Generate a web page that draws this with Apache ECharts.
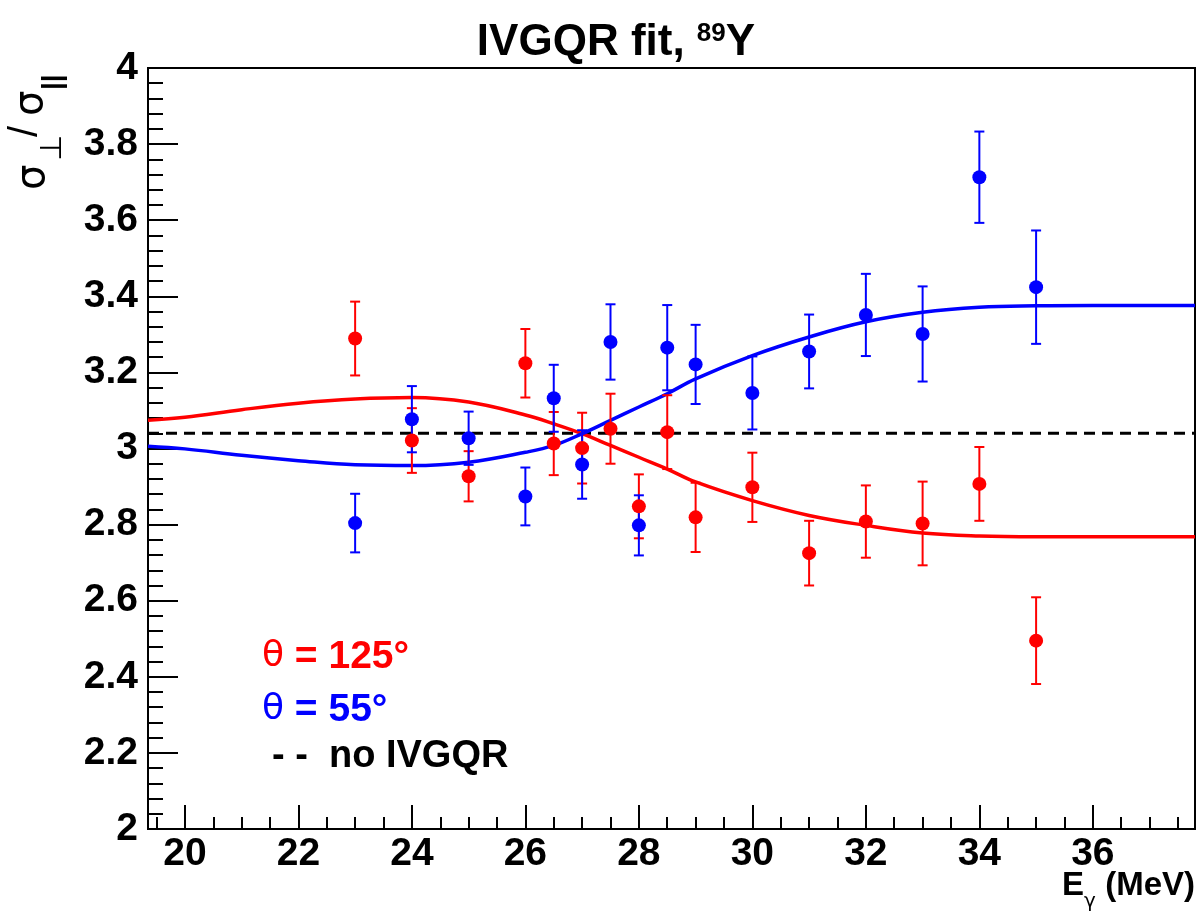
<!DOCTYPE html>
<html>
<head>
<meta charset="utf-8">
<script src="https://cdn.jsdelivr.net/npm/echarts@6/dist/echarts.min.js"></script>
<style>html,body{margin:0;padding:0;background:#fff;}#c{width:1198px;height:920px;}</style>
</head>
<body>
<div id="c"></div>
<script>
// ---- data ----
const energies = [23, 24, 25, 26, 26.5, 27, 27.5, 28, 28.5, 29, 30, 31, 32, 33, 34, 35];
const red125 = [3.289, 3.021, 2.927, 3.224, 3.013, 3.001, 3.052, 2.848, 3.043, 2.819, 2.898, 2.725, 2.808, 2.803, 2.907, 2.495];
const red125Err = [0.097, 0.085, 0.066, 0.090, 0.083, 0.093, 0.092, 0.084, 0.097, 0.091, 0.091, 0.085, 0.095, 0.110, 0.097, 0.114];
const blue55 = [2.804, 3.077, 3.027, 2.874, 3.132, 2.958, 3.280, 2.798, 3.265, 3.221, 3.146, 3.255, 3.351, 3.301, 3.713, 3.424];
const blue55Err = [0.077, 0.087, 0.070, 0.076, 0.088, 0.090, 0.099, 0.079, 0.112, 0.104, 0.096, 0.097, 0.108, 0.125, 0.120, 0.149];

const fitE = [19.35, 20, 21, 22, 23, 24, 25, 26, 26.5, 27, 27.5, 28, 28.5, 29, 30, 31, 32, 33, 34, 35, 36, 37, 37.8];
const fitRed = [3.074, 3.082, 3.102, 3.119, 3.130, 3.134, 3.122, 3.088, 3.065, 3.039, 3.008, 2.977, 2.946, 2.912, 2.863, 2.824, 2.798, 2.778, 2.770, 2.768, 2.768, 2.768, 2.768];
const fitBlue = [3.006, 2.999, 2.982, 2.968, 2.957, 2.955, 2.964, 2.990, 3.008, 3.039, 3.074, 3.109, 3.144, 3.183, 3.244, 3.293, 3.333, 3.358, 3.371, 3.375, 3.376, 3.376, 3.376];

const noIVGQR = 3.04;
const xMin = 19.35, xMax = 37.8;
const xMajorTicks = [20, 22, 24, 26, 28, 30, 32, 34, 36];

// ---- helpers ----
const xMinorTicks = [];
for (let v = 19.5; v < xMax; v += 0.5) { if (Math.abs(v % 2) > 1e-6) xMinorTicks.push(v); }
const zip3 = (a, b, c) => a.map((v, i) => [v, b[i], c[i]]);
const zip2 = (a, b) => a.map((v, i) => [v, b[i]]);

const RED = '#ff0000', BLUE = '#0000ff';
const FF = '"Liberation Sans", Arial, sans-serif';

function errRender(color) {
  return function (params, api) {
    const x = api.value(0), y = api.value(1), e = api.value(2);
    const top = api.coord([x, y + e]);
    const bot = api.coord([x, y - e]);
    const cw = 5;
    const st = { stroke: color, lineWidth: 2 };
    return {
      type: 'group',
      children: [
        { type: 'line', shape: { x1: top[0], y1: top[1], x2: bot[0], y2: bot[1] }, style: st },
        { type: 'line', shape: { x1: top[0] - cw, y1: top[1], x2: top[0] + cw, y2: top[1] }, style: st },
        { type: 'line', shape: { x1: bot[0] - cw, y1: bot[1], x2: bot[0] + cw, y2: bot[1] }, style: st }
      ]
    };
  };
}

const chart = echarts.init(document.getElementById('c'), null, { renderer: 'canvas' });

const option = {
  animation: false,
  backgroundColor: '#fff',
  grid: { left: 148, right: 3, top: 68, bottom: 91, show: true, borderColor: '#000', borderWidth: 2, backgroundColor: 'transparent' },
  xAxis: [
    {
      type: 'value', min: xMin, max: xMax, position: 'bottom',
      axisLine: { show: true, onZero: false, lineStyle: { color: '#000', width: 2 } },
      axisTick: { show: true, inside: true, length: 24, lineStyle: { color: '#000', width: 2 }, customValues: xMajorTicks },
      axisLabel: { show: true, customValues: xMajorTicks, color: '#000', fontSize: 39, fontWeight: 'bold', fontFamily: FF, margin: 6 },
      splitLine: { show: false }
    },
    {
      type: 'value', min: xMin, max: xMax, position: 'bottom', offset: 0,
      axisLine: { show: false },
      axisTick: { show: true, inside: true, length: 12, lineStyle: { color: '#000', width: 2 }, customValues: xMinorTicks },
      axisLabel: { show: false },
      splitLine: { show: false }
    }
  ],
  yAxis: {
    type: 'value', min: 2, max: 4, interval: 0.2,
    axisLine: { show: true, onZero: false, lineStyle: { color: '#000', width: 2 } },
    axisTick: { show: true, inside: true, length: 30, lineStyle: { color: '#000', width: 2 } },
    minorTick: { show: true, splitNumber: 5, length: 15, lineStyle: { color: '#000', width: 2 } },
    axisLabel: { color: '#000', fontSize: 39, fontWeight: 'bold', fontFamily: FF, margin: 10 },
    splitLine: { show: false }, minorSplitLine: { show: false }
  },
  series: [
    {
      type: 'line', name: 'noIVGQR', xAxisIndex: 0, data: [[xMin, noIVGQR], [xMax, noIVGQR]],
      showSymbol: false, lineStyle: { color: '#000', width: 3, type: [11, 7] }, z: 2
    },
    {
      type: 'line', name: 'fit125', xAxisIndex: 0, data: zip2(fitE, fitRed), smooth: 0.4,
      showSymbol: false, lineStyle: { color: RED, width: 3.5 }, z: 3
    },
    {
      type: 'line', name: 'fit55', xAxisIndex: 0, data: zip2(fitE, fitBlue), smooth: 0.4,
      showSymbol: false, lineStyle: { color: BLUE, width: 3.5 }, z: 3
    },
    { type: 'custom', xAxisIndex: 0, data: zip3(energies, red125, red125Err), renderItem: errRender(RED), z: 4 },
    { type: 'custom', xAxisIndex: 0, data: zip3(energies, blue55, blue55Err), renderItem: errRender(BLUE), z: 4 },
    { type: 'scatter', xAxisIndex: 0, data: zip2(energies, red125), symbol: 'circle', symbolSize: 14, itemStyle: { color: RED, opacity: 1 }, z: 5 },
    { type: 'scatter', xAxisIndex: 0, data: zip2(energies, blue55), symbol: 'circle', symbolSize: 14, itemStyle: { color: BLUE, opacity: 1 }, z: 5 }
  ],
  graphic: [
    // title
    {
      type: 'text', x: 616, y: 43,
      style: {
        text: '{t|IVGQR fit, }{s|89}{t|Y}', textAlign: 'center', textVerticalAlign: 'middle',
        rich: {
          t: { font: 'bold 44px ' + FF, fill: '#000', verticalAlign: 'bottom' },
          s: { font: 'bold 26px ' + FF, fill: '#000', verticalAlign: 'top' }
        }
      }
    },
    // y-axis title: sigma_perp / sigma_||
    { type: 'text', x: 34, y: 190, rotation: Math.PI / 2, style: { text: 'σ', font: '40px "DejaVu Sans", sans-serif', fill: '#000', textAlign: 'left', textVerticalAlign: 'middle' } },
    { type: 'text', x: 53, y: 161, rotation: Math.PI / 2, style: { text: '⊥', font: '30px "DejaVu Sans", sans-serif', fill: '#000', textAlign: 'left', textVerticalAlign: 'middle' } },
    { type: 'text', x: 26, y: 137, rotation: Math.PI / 2, style: { text: '/', font: '40px ' + FF, fill: '#000', textAlign: 'left', textVerticalAlign: 'middle' } },
    { type: 'text', x: 32, y: 116, rotation: Math.PI / 2, style: { text: 'σ', font: '40px "DejaVu Sans", sans-serif', fill: '#000', textAlign: 'left', textVerticalAlign: 'middle' } },
    { type: 'text', x: 53, y: 90, rotation: Math.PI / 2, style: { text: '||', font: 'bold 28px ' + FF, fill: '#000', textAlign: 'left', textVerticalAlign: 'middle' } },
    // x-axis title
    { type: 'text', x: 1062, y: 902, style: { text: 'E', font: 'bold 33px ' + FF, fill: '#000', textAlign: 'left', textVerticalAlign: 'bottom' } },
    { type: 'text', x: 1084, y: 912, style: { text: 'γ', font: '20px "DejaVu Sans", sans-serif', fill: '#000', textAlign: 'left', textVerticalAlign: 'bottom' } },
    { type: 'text', x: 1195, y: 902, style: { text: '(MeV)', font: 'bold 33px ' + FF, fill: '#000', textAlign: 'right', textVerticalAlign: 'bottom' } },
    // legend texts
    {
      type: 'text', x: 262, y: 657,
      style: {
        text: '{g|θ}{b| = 125°}', textVerticalAlign: 'middle',
        rich: {
          g: { font: '36px "DejaVu Sans", sans-serif', fill: RED },
          b: { font: 'bold 39px ' + FF, fill: RED }
        }
      }
    },
    {
      type: 'text', x: 262, y: 710,
      style: {
        text: '{g|θ}{b| = 55°}', textVerticalAlign: 'middle',
        rich: {
          g: { font: '36px "DejaVu Sans", sans-serif', fill: BLUE },
          b: { font: 'bold 39px ' + FF, fill: BLUE }
        }
      }
    },
    {
      type: 'text', x: 272, y: 757,
      style: { text: '- -  no IVGQR', font: 'bold 38px ' + FF, fill: '#000', textVerticalAlign: 'middle' }
    }
  ]
};
chart.setOption(option);
</script>
</body>
</html>
